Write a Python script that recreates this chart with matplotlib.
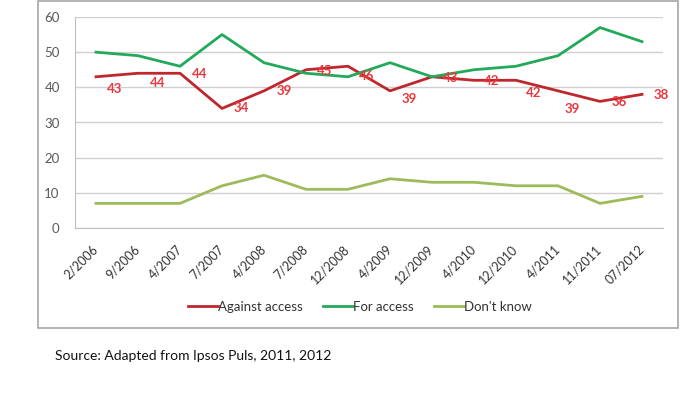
import matplotlib
matplotlib.use("Agg")
import matplotlib.pyplot as plt
from matplotlib.patches import Rectangle

plt.rcParams['font.family'] = ['Lato', 'DejaVu Sans']

dates = ["2/2006", "9/2006", "4/2007", "7/2007", "4/2008", "7/2008", "12/2008",
         "4/2009", "12/2009", "4/2010", "12/2010", "4/2011", "11/2011", "07/2012"]
against = [43, 44, 44, 34, 39, 45, 46, 39, 43, 42, 42, 39, 36, 38]
for_access = [50, 49, 46, 55, 47, 44, 43, 47, 43, 45, 46, 49, 57, 53]
dont_know = [7, 7, 7, 12, 15, 11, 11, 14, 13, 13, 12, 12, 7, 9]
y_ticks = [0, 10, 20, 30, 40, 50, 60]

# label offsets in pixels (dx right, dy down)
label_offsets = [(19, 12), (20, 10), (20, 1), (19, 0), (20, 0), (19, 1), (19, 10),
                 (19, 8), (19, 1), (18, 1), (18, 13), (14, 18), (19, 1), (19, 1)]

W, H = 700, 394
fig = plt.figure(figsize=(7, 3.94), dpi=100)
fig.patch.set_facecolor('white')

ax = fig.add_axes([75 / W, 1 - 228 / H, (663 - 75) / W, (228 - 17) / H])
x = list(range(len(dates)))

c_red = '#c0272d'
c_green = '#23a95a'
c_lgreen = '#9dbb5a'

ax.plot(x, against, color=c_red, lw=2.0, label='Against access', zorder=3)
ax.plot(x, for_access, color=c_green, lw=2.0, label='For access', zorder=3)
ax.plot(x, dont_know, color=c_lgreen, lw=2.0, label="Don't know", zorder=3)

px2pt = 0.72
for xi, v, (dx, dy) in zip(x, against, label_offsets):
    ax.annotate(str(v), (xi, v), xytext=(dx * px2pt, -dy * px2pt),
                textcoords='offset points', ha='center', va='center',
                color='#e8383d', fontsize=9.5, fontweight='bold', zorder=4)

ax.set_xlim(-0.5, len(dates) - 0.5)
ax.set_ylim(0, 60)
ax.set_yticks(y_ticks)
ax.yaxis.grid(True, color='#d0d0d0', lw=1)
ax.set_axisbelow(True)
for s in ['top', 'right']:
    ax.spines[s].set_visible(False)
ax.spines['left'].set_color('#bfbfbf')
ax.spines['bottom'].set_color('#bfbfbf')
ax.tick_params(axis='y', length=0, pad=11, labelsize=9.5, labelcolor='#595959')
ax.set_xticks(x)
ax.set_xticklabels(dates)
ax.tick_params(axis='x', length=0, pad=14, labelsize=9, labelcolor='#333333')
for lbl in ax.get_xticklabels():
    lbl.set_rotation(45)
    lbl.set_rotation_mode('anchor')
    lbl.set_ha('right')
    lbl.set_va('center')

leg = fig.legend(loc='center', bbox_to_anchor=(360 / W, 1 - 307 / H), ncol=3,
                 frameon=False, fontsize=9.5, handlelength=2.3, handletextpad=0.0,
                 columnspacing=1.5)
for t in leg.get_texts():
    t.set_color('#333333')

fig.patches.append(Rectangle((38 / W, 1 - 328 / H), (678 - 38) / W, (328 - 1) / H,
                             transform=fig.transFigure, fill=False,
                             edgecolor='#a6a6a6', lw=1.2))

fig.text(55 / W, 1 - 356 / H, "Source: Adapted from Ipsos Puls, 2011, 2012",
         fontsize=10, color='#111111', ha='left', va='center')

fig.savefig('out.png', dpi=100, facecolor='white')
